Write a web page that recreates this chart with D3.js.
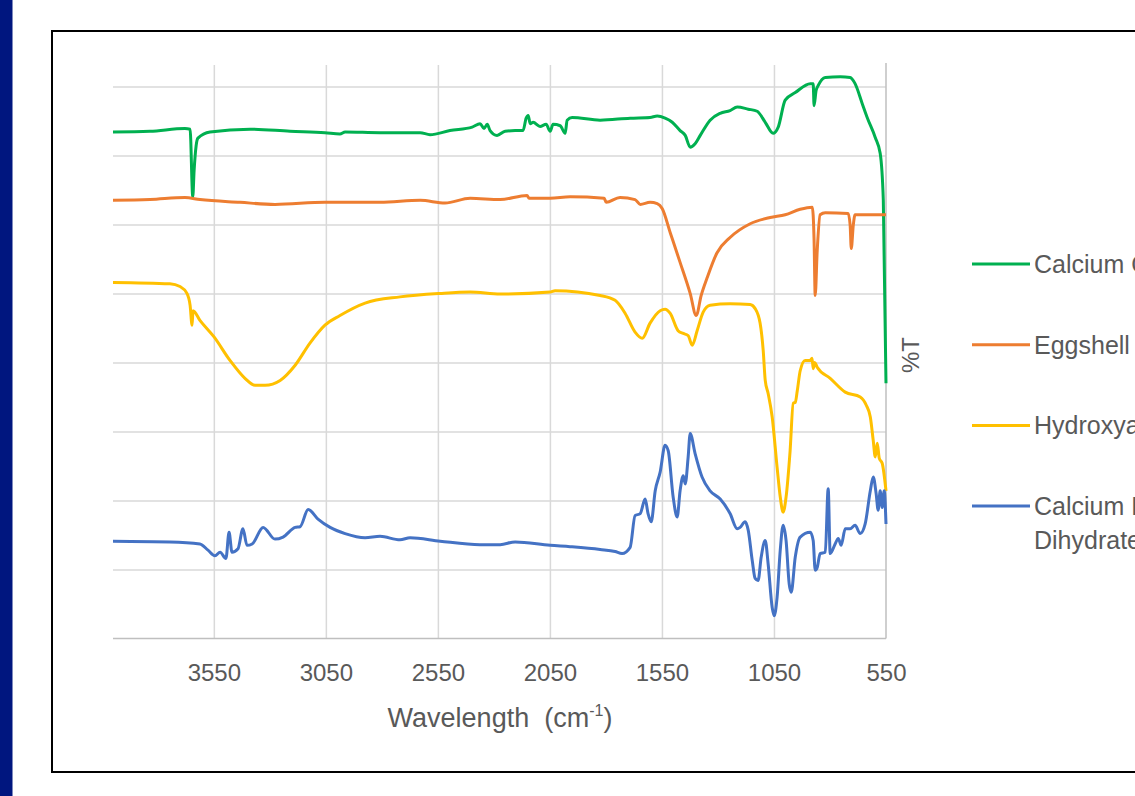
<!DOCTYPE html>
<html lang="en">
<head>
    <meta charset="UTF-8">
    <title>FTIR spectra</title>
    <script src="https://d3js.org/d3.v7.min.js" charset="utf-8"></script>
    <style>
        body {
            margin: 0;
            background: white;
        }
        svg text {
            font-family: 'Liberation Sans', Arial, sans-serif;
            fill: #595959;
        }
    </style>
</head>
<body>
    <script>
    // spectra as [wavenumber (cm-1), %T]
    var calciumOxide = [
        [4000, 73.4], [3835, 73.5], [3679, 73.9], [3656, 73.8], [3644, 64.0], [3638, 67.8],
        [3629, 71.4], [3621, 72.5], [3567, 73.4], [3388, 73.8], [3210, 73.5], [3054, 73.3],
        [2987, 73.1], [2964, 73.4], [2808, 73.3], [2629, 73.3], [2585, 73.0], [2496, 73.6],
        [2397, 74.1], [2362, 74.6], [2344, 73.9], [2330, 74.5], [2317, 73.6], [2286, 72.9],
        [2250, 73.5], [2205, 73.6], [2170, 73.6], [2156, 75.4], [2147, 75.8], [2138, 74.6],
        [2125, 74.8], [2094, 74.2], [2067, 74.5], [2049, 73.5], [2036, 74.5], [2004, 74.3],
        [1982, 73.2], [1973, 75.1], [1951, 75.5], [1826, 75.1], [1692, 75.4], [1603, 75.5],
        [1571, 75.7], [1536, 75.4], [1504, 74.8], [1469, 73.6], [1446, 72.9], [1424, 71.2],
        [1402, 71.7], [1379, 72.9], [1335, 75.1], [1290, 76.1], [1246, 76.5], [1214, 77.0],
        [1165, 76.7], [1125, 76.4], [1089, 74.8], [1054, 73.2], [1031, 74.1], [1000, 78.0],
        [955, 79.1], [888, 80.4], [875, 80.4], [871, 77.2], [862, 79.4], [853, 80.1],
        [821, 81.3], [754, 81.4], [710, 81.3], [688, 80.4], [656, 77.5], [634, 75.5],
        [598, 72.6], [576, 70.3], [562, 63.5], [550, 37.0]
    ];
    var eggshell = [
        [4000, 63.5], [3835, 63.6], [3679, 63.9], [3612, 63.6], [3433, 63.2], [3277, 62.9],
        [3054, 63.2], [2808, 63.2], [2629, 63.5], [2518, 63.1], [2406, 63.8], [2272, 63.6],
        [2152, 64.2], [2143, 63.8], [2049, 63.8], [1960, 64.0], [1808, 63.8], [1799, 63.2],
        [1737, 63.9], [1670, 63.6], [1647, 62.9], [1603, 63.2], [1571, 63.0], [1549, 62.3],
        [1513, 58.8], [1469, 54.5], [1424, 50.0], [1397, 46.8], [1375, 49.7], [1348, 52.3],
        [1304, 55.9], [1246, 58.1], [1156, 60.1], [1067, 61.0], [1000, 61.4], [933, 62.2],
        [879, 62.5], [871, 57.7], [866, 49.7], [857, 56.2], [844, 61.4], [821, 61.7],
        [719, 61.6], [710, 59.9], [705, 56.5], [696, 59.9], [688, 61.4], [550, 61.4]
    ];
    var hydroxyapatite = [
        [4000, 51.6], [3746, 51.4], [3701, 51.0], [3670, 50.0], [3656, 48.3], [3647, 45.4],
        [3643, 47.5], [3612, 46.1], [3549, 43.7], [3478, 40.3], [3411, 37.7], [3366, 36.7],
        [3321, 36.7], [3254, 37.4], [3187, 39.6], [3121, 42.8], [3054, 45.4], [2987, 46.8],
        [2875, 48.6], [2719, 49.5], [2540, 50.0], [2406, 50.2], [2272, 49.9], [2049, 50.2],
        [2027, 50.4], [1826, 49.7], [1759, 49.0], [1714, 47.1], [1670, 44.4], [1638, 43.5],
        [1603, 45.7], [1558, 47.5], [1536, 47.7], [1513, 47.1], [1478, 44.6], [1455, 44.2],
        [1433, 43.9], [1415, 42.5], [1393, 44.6], [1366, 47.3], [1335, 48.3], [1246, 48.5],
        [1156, 48.4], [1134, 47.8], [1112, 45.7], [1098, 41.7], [1089, 37.4], [1076, 35.5],
        [1058, 32.1], [1036, 24.8], [1022, 20.5], [1009, 18.3], [996, 20.5], [978, 27.2],
        [964, 34.1], [955, 34.2], [946, 35.9], [933, 38.8], [911, 40.3], [888, 40.3],
        [880, 40.6], [875, 39.1], [868, 40.0], [857, 39.3], [799, 37.7], [732, 35.7],
        [665, 35.0], [638, 33.8], [620, 32.1], [607, 28.7], [598, 26.3], [589, 28.3],
        [580, 26.1], [567, 25.4], [550, 21.4]
    ];
    var calciumPhosphate = [
        [4000, 14.1], [3746, 14.0], [3612, 13.7], [3576, 12.8], [3545, 12.0], [3522, 12.5],
        [3496, 11.6], [3482, 15.4], [3469, 12.5], [3442, 13.0], [3420, 15.9], [3402, 13.5],
        [3379, 13.7], [3330, 16.1], [3277, 14.4], [3241, 14.7], [3187, 16.1], [3165, 16.2],
        [3129, 18.7], [3085, 17.3], [3031, 16.1], [2964, 15.2], [2875, 14.6], [2808, 14.8],
        [2719, 14.3], [2674, 14.6], [2540, 14.1], [2362, 13.6], [2272, 13.6], [2205, 14.0],
        [2049, 13.5], [1960, 13.3], [1826, 12.9], [1759, 12.6], [1728, 12.3], [1692, 13.2],
        [1670, 17.8], [1647, 18.1], [1625, 20.2], [1612, 18.1], [1598, 16.9], [1580, 21.4],
        [1558, 24.1], [1536, 28.0], [1522, 27.2], [1500, 20.5], [1482, 17.6], [1469, 21.4],
        [1455, 23.6], [1446, 22.4], [1433, 26.3], [1424, 29.7], [1402, 26.8], [1371, 23.4],
        [1335, 21.4], [1290, 20.2], [1246, 18.1], [1214, 15.9], [1201, 16.1], [1179, 16.9],
        [1165, 15.7], [1147, 11.3], [1134, 8.7], [1121, 8.4], [1107, 11.8], [1089, 14.2],
        [1076, 10.8], [1058, 4.5], [1049, 3.3], [1036, 6.0], [1022, 12.8], [1009, 16.4],
        [996, 14.2], [982, 7.9], [973, 6.7], [955, 11.8], [933, 14.7], [888, 15.4],
        [875, 14.2], [866, 9.9], [857, 10.3], [844, 12.3], [821, 12.5], [808, 21.7],
        [799, 12.3], [777, 13.7], [763, 14.5], [750, 13.5], [732, 15.9], [710, 15.9],
        [688, 16.4], [665, 15.2], [643, 16.6], [620, 21.4], [607, 23.4], [594, 21.0],
        [585, 18.6], [576, 21.4], [567, 19.0], [558, 21.4], [550, 16.6]
    ];

    var seriesNames = [['Calcium Oxide'], ['Eggshell'], ['Hydroxyapatite'], ['Calcium Hydrogen Phosphate', 'Dihydrate']];
    var xTicks = [3550, 3050, 2550, 2050, 1550, 1050, 550];
    var yGridValues = [10, 20, 30, 40, 50, 60, 70, 80];

    var seriesData = [calciumOxide, eggshell, hydroxyapatite, calciumPhosphate];
    var seriesColors = ['#00b050', '#ed7d31', '#ffc000', '#4472c4'];

    var svgwidth = 1135;
    var svgheight = 796;

    var svg = d3.select('body').append('svg')
        .attr('width', svgwidth)
        .attr('height', svgheight);

    // navy strip on the left edge of the slide
    svg.append('rect')
        .attr('x', 0).attr('y', 0)
        .attr('width', 12.5).attr('height', svgheight)
        .attr('fill', '#00167f');

    // chart frame (runs off the right edge)
    svg.append('rect')
        .attr('x', 52).attr('y', 31)
        .attr('width', 1200).attr('height', 741)
        .attr('fill', 'white')
        .attr('stroke', '#000')
        .attr('stroke-width', 2);

    var plotLeft = 113, plotRight = 886, plotTop = 65, plotBottom = 638.5;

    var x = d3.scaleLinear().domain([4000, 550]).range([plotLeft, plotRight]);
    var y = d3.scaleLinear().domain([0, 83.1]).range([plotBottom, plotTop]);

    // horizontal gridlines
    var yGrid = svg.append('g')
        .attr('transform', 'translate(' + plotLeft + ',0)')
        .call(d3.axisLeft(y).tickValues(yGridValues).tickSize(-(plotRight - plotLeft)).tickFormat(''));
    yGrid.select('.domain').remove();
    yGrid.selectAll('line').attr('stroke', '#d9d9d9').attr('stroke-width', 1.5);

    // vertical gridlines
    var xGrid = svg.append('g')
        .attr('transform', 'translate(0,' + plotBottom + ')')
        .call(d3.axisBottom(x).tickValues(xTicks.slice(0, -1)).tickSize(-(plotBottom - plotTop)).tickFormat(''));
    xGrid.select('.domain').remove();
    xGrid.selectAll('line').attr('stroke', '#d9d9d9').attr('stroke-width', 1.5);

    // axis lines: bottom and right (value axis sits at 550)
    svg.append('line')
        .attr('x1', plotLeft).attr('x2', plotRight)
        .attr('y1', plotBottom).attr('y2', plotBottom)
        .attr('stroke', '#bfbfbf').attr('stroke-width', 1.5);
    svg.append('line')
        .attr('x1', x(550)).attr('x2', x(550))
        .attr('y1', plotTop - 2).attr('y2', plotBottom)
        .attr('stroke', '#bfbfbf').attr('stroke-width', 1.5);

    // tick labels
    var xAxis = svg.append('g')
        .attr('transform', 'translate(0,' + plotBottom + ')')
        .call(d3.axisBottom(x).tickValues(xTicks).tickSize(0).tickFormat(d3.format('d')));
    xAxis.select('.domain').remove();
    xAxis.selectAll('text')
        .attr('y', 42.5)
        .attr('dy', 0)
        .style('font-size', '24px')
        .style('font-family', "'Liberation Sans', Arial, sans-serif")
        .attr('fill', '#595959');

    // axis titles
    var xTitle = svg.append('text')
        .attr('x', 500)
        .attr('y', 727)
        .attr('text-anchor', 'middle')
        .style('font-size', '27px');
    xTitle.append('tspan').text('Wavelength\u00a0 (cm');
    xTitle.append('tspan').attr('dy', -11).style('font-size', '16px').text('-1');
    xTitle.append('tspan').attr('dy', 11).text(')');

    svg.append('text')
        .attr('transform', 'translate(910,355) rotate(-90)')
        .attr('text-anchor', 'middle')
        .attr('dominant-baseline', 'central')
        .style('font-size', '24px')
        .text('%T');

    // spectra
    var line = d3.line()
        .x(function(d) { return x(d[0]); })
        .y(function(d) { return y(d[1]); })
        .curve(d3.curveMonotoneX);

    seriesData.forEach(function(s, i) {
        svg.append('path')
            .datum(s)
            .attr('d', line)
            .attr('fill', 'none')
            .attr('stroke', seriesColors[i])
            .attr('stroke-width', 3)
            .attr('stroke-linejoin', 'round');
    });

    // legend
    var legend = svg.append('g');
    seriesNames.forEach(function(name, i) {
        var ly = 264 + i * 80.7;
        legend.append('line')
            .attr('x1', 972).attr('x2', 1030)
            .attr('y1', ly).attr('y2', ly)
            .attr('stroke', seriesColors[i])
            .attr('stroke-width', 3);
        name.forEach(function(part, j) {
            legend.append('text')
                .attr('x', 1034)
                .attr('y', ly + j * 34)
                .attr('dominant-baseline', 'central')
                .style('font-size', '25px')
                .text(part);
        });
    });
    </script>
</body>
</html>
